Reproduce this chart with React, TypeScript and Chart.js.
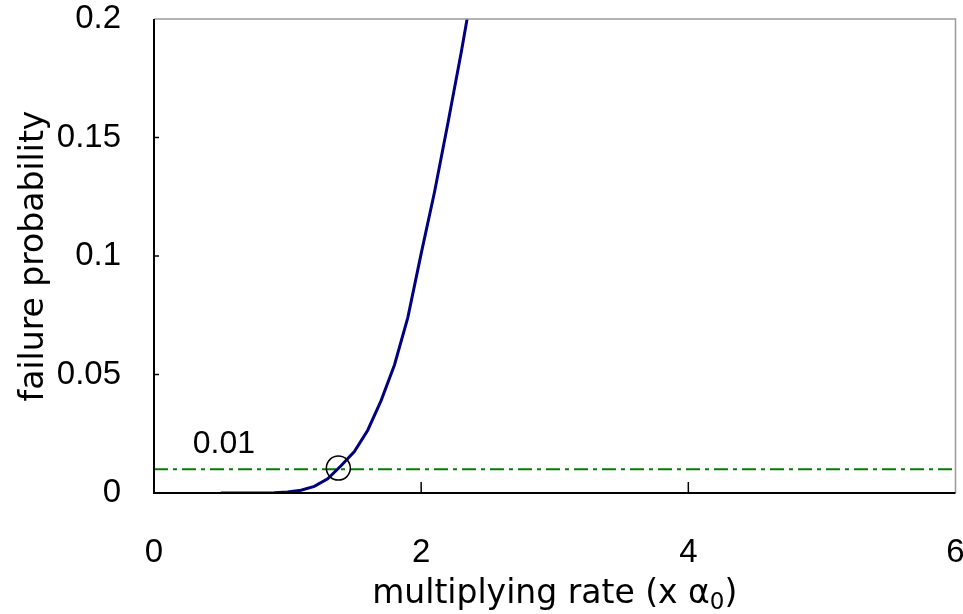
import React, { useEffect, useRef } from 'react';
import { Chart, registerables } from 'chart.js';

Chart.register(...registerables);

// ---- data ----
const rateX = [0.5, 0.6, 0.7, 0.8, 0.9, 1.0, 1.1, 1.2, 1.3, 1.4, 1.5, 1.6, 1.7, 1.8, 1.9, 2.0, 2.1, 2.2, 2.3, 2.4];
const failureProb = [0, 0, 0, 0.00002, 0.0001, 0.0004, 0.0012, 0.0028, 0.006, 0.0115, 0.0175, 0.0265, 0.039, 0.054, 0.074, 0.101, 0.127, 0.156, 0.186, 0.218];
const thresholdX = [0, 6];
const thresholdY = [0.01, 0.01];
const thresholdLabel = '0.01';
const markerX = [1.38];
const markerY = [0.0105];
const xTicks = [0, 2, 4, 6];
const yTicks = [0, 0.05, 0.1, 0.15, 0.2];
const xTitleMain = 'multiplying rate (x ';
const xTitleGreek = 'α';
const xTitleSub = '0';
const xTitleEnd = ')';
const yTitle = 'failure probability';

const FONT = '"Liberation Sans", Arial, sans-serif';
const TITLE_FONT = '"DejaVu Sans", sans-serif';

const framePlugin = {
  id: 'framePlugin',
  afterDraw(chart: any) {
    const { ctx, chartArea: a, scales } = chart;
    const xs = scales.x;
    const ys = scales.y;
    ctx.save();
    // top & right (gray)
    ctx.strokeStyle = '#9a9a9a';
    ctx.lineWidth = 1.5;
    ctx.beginPath();
    ctx.moveTo(a.left, a.top);
    ctx.lineTo(a.right, a.top);
    ctx.lineTo(a.right, a.bottom);
    ctx.stroke();
    // left & bottom (black)
    ctx.strokeStyle = '#000';
    ctx.lineWidth = 2;
    ctx.beginPath();
    ctx.moveTo(a.left, a.top);
    ctx.lineTo(a.left, a.bottom);
    ctx.lineTo(a.right, a.bottom);
    ctx.stroke();
    // inward ticks
    ctx.lineWidth = 1.5;
    xTicks.forEach((v) => {
      const px = xs.getPixelForValue(v);
      if (Math.abs(px - a.left) < 2 || Math.abs(px - a.right) < 2) return;
      ctx.beginPath();
      ctx.moveTo(px, a.bottom);
      ctx.lineTo(px, a.bottom - 11);
      ctx.stroke();
    });
    yTicks.forEach((v) => {
      const py = ys.getPixelForValue(v);
      if (Math.abs(py - a.top) < 2 || Math.abs(py - a.bottom) < 2) return;
      ctx.beginPath();
      ctx.moveTo(a.left, py);
      ctx.lineTo(a.left + 5, py);
      ctx.stroke();
    });
    // threshold label
    ctx.fillStyle = '#000';
    ctx.font = `32px ${FONT}`;
    ctx.textAlign = 'left';
    ctx.textBaseline = 'alphabetic';
    ctx.fillText(thresholdLabel, xs.getPixelForValue(0.29), ys.getPixelForValue(thresholdY[0]) - 16);

    // y title
    ctx.save();
    ctx.translate(43, (a.top + a.bottom) / 2);
    ctx.rotate(-Math.PI / 2);
    ctx.textAlign = 'center';
    ctx.textBaseline = 'alphabetic';
    ctx.font = `33px ${TITLE_FONT}`;
    ctx.fillText(yTitle, 0, 0);
    ctx.restore();

    // x title
    const mainFont = `33px ${TITLE_FONT}`;
    const subFont = `23px ${TITLE_FONT}`;
    ctx.font = mainFont;
    const w1 = ctx.measureText(xTitleMain).width;
    const w2 = ctx.measureText(xTitleGreek).width;
    const w4 = ctx.measureText(xTitleEnd).width;
    ctx.font = subFont;
    const w3 = ctx.measureText(xTitleSub).width;
    const total = w1 + w2 + w3 + w4;
    const cx = (a.left + a.right) / 2;
    let x = cx - total / 2;
    const base = 603;
    ctx.textAlign = 'left';
    ctx.font = mainFont;
    ctx.fillText(xTitleMain, x, base); x += w1;
    ctx.fillText(xTitleGreek, x, base); x += w2;
    ctx.font = subFont;
    ctx.fillText(xTitleSub, x, base + 6); x += w3;
    ctx.font = mainFont;
    ctx.fillText(xTitleEnd, x, base);
    ctx.restore();
  },
};

export default function App() {
  const ref = useRef<HTMLCanvasElement | null>(null);
  useEffect(() => {
    if (!ref.current) return;
    const chart = new Chart(ref.current, {
      type: 'line',
      data: {
        datasets: [
          {
            data: markerX.map((x, i) => ({ x, y: markerY[i] })),
            showLine: false,
            pointRadius: 12,
            pointBorderWidth: 1.5,
            pointBorderColor: '#000',
            pointBackgroundColor: 'rgba(0,0,0,0)',
            borderColor: '#000',
          },
          {
            data: rateX.map((x, i) => ({ x, y: failureProb[i] })),
            borderColor: '#000080',
            borderWidth: 3,
            pointRadius: 0,
            tension: 0,
            fill: false,
          },
          {
            data: thresholdX.map((x, i) => ({ x, y: thresholdY[i] })),
            borderColor: '#008000',
            borderWidth: 2,
            borderDash: [14, 5, 4, 5],
            pointRadius: 0,
            fill: false,
          },
        ],
      },
      options: {
        responsive: false,
        animation: false,
        devicePixelRatio: 1,
        layout: { autoPadding: false, padding: { top: 19, right: 7.5, left: 0, bottom: 0 } },
        plugins: { legend: { display: false }, tooltip: { enabled: false } },
        scales: {
          x: {
            type: 'linear',
            min: 0,
            max: 6,
            afterBuildTicks: (s: any) => { s.ticks = xTicks.map((v) => ({ value: v })); },
            afterFit: (s: any) => { s.height = 121; s.paddingLeft = 0; s.paddingRight = 0; },
            grid: { display: false, drawTicks: false },
            border: { display: false },
            ticks: {
              padding: 40,
              color: '#000',
              font: { family: FONT, size: 33 },
              maxRotation: 0,
              callback: (v: any) => String(v),
            },
          },
          y: {
            type: 'linear',
            min: 0,
            max: 0.2,
            afterBuildTicks: (s: any) => { s.ticks = yTicks.map((v) => ({ value: v })); },
            afterFit: (s: any) => { s.width = 154; s.paddingTop = 0; s.paddingBottom = 0; },
            grid: { display: false, drawTicks: false },
            border: { display: false },
            ticks: {
              padding: 33,
              color: '#000',
              font: { family: FONT, size: 33 },
              callback: (v: any) => String(Number(Number(v).toFixed(2))),
            },
          },
        },
      },
      plugins: [framePlugin],
    });
    return () => chart.destroy();
  }, []);
  return (
    <div style={{ position: 'fixed', left: 0, top: 0, width: 963, height: 614, background: '#fff' }}>
      <canvas ref={ref} width={963} height={614} />
    </div>
  );
}
